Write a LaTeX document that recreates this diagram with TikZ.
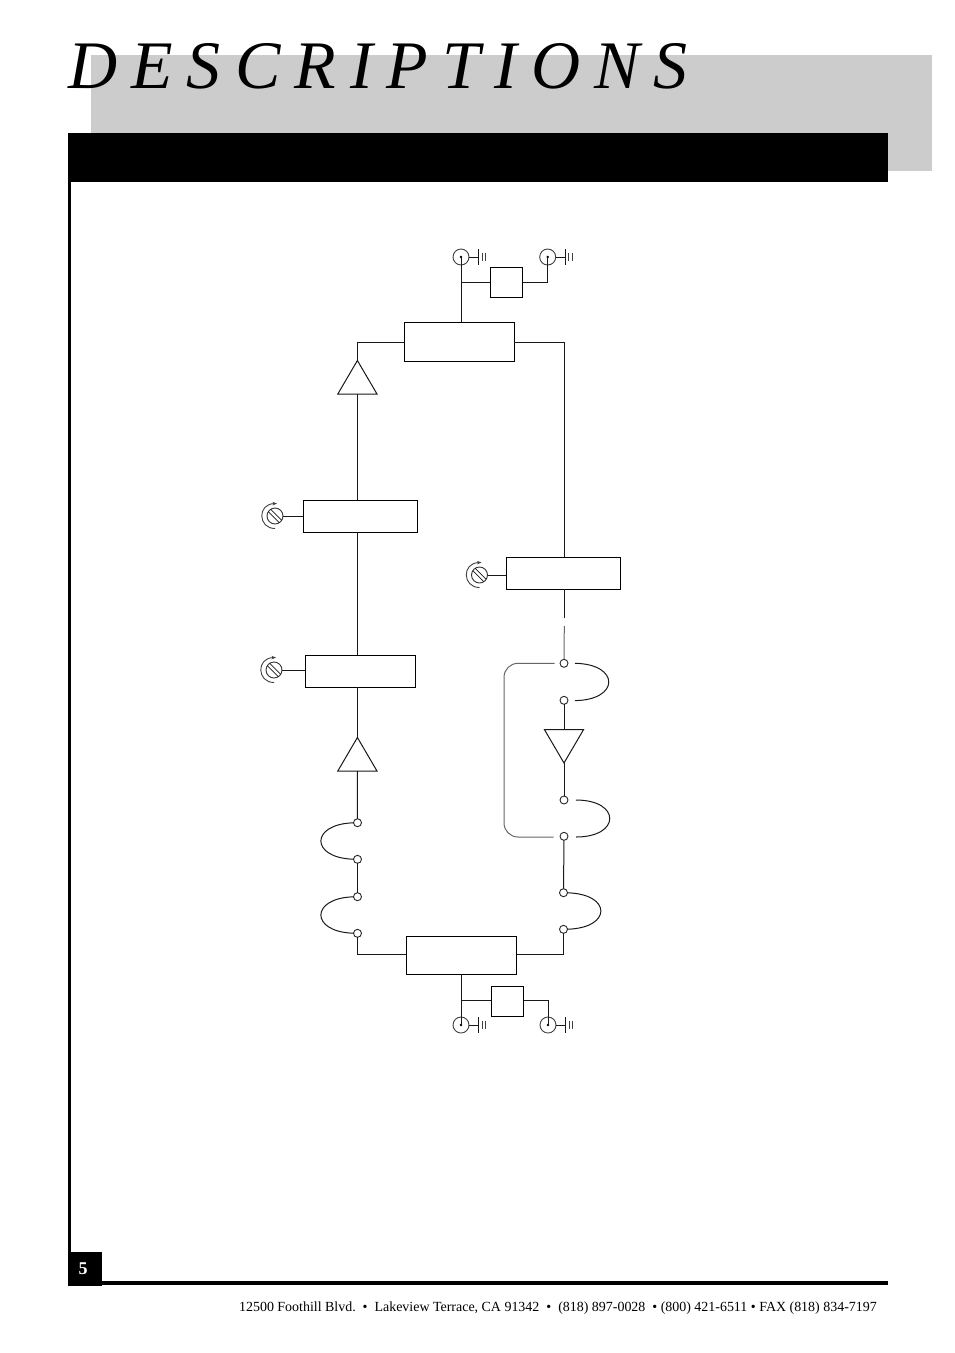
\documentclass[tikz,border=0pt]{standalone}
\usepackage{fontspec}
\setmainfont{Liberation Serif}
\usetikzlibrary{arrows.meta}
\tikzset{
  x=1pt,y=-1pt,
  wire/.style={draw=black!90,line width=1pt},
  softwire/.style={draw=black!60,line width=1pt},
  blockbox/.style={draw=black,line width=1.1pt,fill=white,inner sep=0pt,outer sep=0pt},
  port/.style={circle,draw=black!85,line width=0.9pt,fill=white,inner sep=0pt,minimum size=8pt,outer sep=0pt},
  pics/bncjack/.style={code={
    \node[circle,draw=black!75,line width=0.9pt,inner sep=0pt,minimum size=16pt] (-c) at (0,0) {};
    \fill[black] (0,0) circle (1.4pt);
    \coordinate (-g) at (17.3,0);
    \draw[wire] (-c) -- (-g);
    \draw[wire] (17.3,-8) -- (17.3,8);
    \draw[draw=black!75,line width=0.9pt] (21,-4) -- (21,4) (24.3,-4) -- (24.3,4);
  }},
  pics/trimknob/.style={code={
    \node[circle,draw=black!80,line width=0.9pt,inner sep=0pt,minimum size=16pt] (-c) at (0,0) {};
    \draw[draw=black!90,line width=0.8pt] (-6.7,-4.3) -- (4.3,6.7) (-4.3,-6.7) -- (6.7,4.3);
    \draw[draw=black!75,line width=0.9pt,-{Stealth[length=4.5pt,width=3.5pt]}] (0,12.5) .. controls (-17,12.5) and (-18,-12) .. (2,-12.5);
  }},
  pics/ampflag/.style={code={
    \coordinate (-tip) at (0,-33.5);
    \coordinate (-base) at (0,0);
    \draw[draw=black!90,line width=1pt,line join=miter] (-19.6,0) -- (-tip) -- (19.6,0) -- cycle;
  }}
}
\begin{document}
\begin{tikzpicture}
\useasboundingbox (0,0) rectangle (954,1353);
\fill[white] (0,0) rectangle (954,1353);
% page furniture
\fill[black!20] (91,55) rectangle (932,171);
\fill[black] (68,133) rectangle (888,182);
\fill[black] (68,182) rectangle (71,1285);
\fill[black] (102,1281) rectangle (888,1285);
\node[anchor=base west,inner sep=0pt] (title) at (68,88.6)
  {\fontsize{68}{68}\selectfont\itshape\spaceskip=14.1pt\relax D E S C R I P T I O N S};
\node[fill=black,minimum width=34pt,minimum height=34pt,inner sep=0pt,text=white] (pagenum) at (85,1268.6)
  {\fontsize{18}{18}\selectfont\bfseries 5\hspace*{4pt}};
\node[anchor=base east,inner sep=0pt] (footer) at (877,1311)
  {\fontsize{13.95}{13.95}\selectfont 12500 Foothill Blvd.\ \ •\ \ Lakeview Terrace, CA 91342\ \ •\ \ (818) 897-0028\ \ • (800) 421-6511 • FAX (818) 834-7197};
% blocks
\node[blockbox,minimum width=32.4pt,minimum height=30pt] (attT) at (506.5,282.3) {};
\node[blockbox,minimum width=110pt,minimum height=39pt] (couplerT) at (459.3,341.8) {};
\node[blockbox,minimum width=114.4pt,minimum height=32pt] (ctrlB) at (360.5,516.3) {};
\node[blockbox,minimum width=110.4pt,minimum height=32pt] (ctrlC) at (360.5,671.3) {};
\node[blockbox,minimum width=114.4pt,minimum height=32pt] (ctrlD) at (563.5,573.3) {};
\node[blockbox,minimum width=110.4pt,minimum height=38pt] (couplerB) at (461.5,955.3) {};
\node[blockbox,minimum width=32.4pt,minimum height=30pt] (attB) at (507.5,1001.3) {};
% jacks
\pic (jackTL) at (461,257) {bncjack};
\pic (jackTR) at (547.7,257) {bncjack};
\pic (jackBL) at (461,1025) {bncjack};
\pic (jackBR) at (548,1025) {bncjack};
% knobs
\pic (knobB) at (275,516) {trimknob};
\pic (knobC) at (274,670) {trimknob};
\pic (knobD) at (479.5,575) {trimknob};
% amplifiers
\pic (ampT) at (357.4,394) {ampflag};
\pic (ampL) at (357.4,771) {ampflag};
\pic[yscale=-1] (ampR) at (564,729.5) {ampflag};
% ports
\node[port] (r1) at (564,663.3) {};
\node[port] (r2) at (564,700.3) {};
\node[port] (r3) at (564,800) {};
\node[port] (r4) at (564,836.3) {};
\node[port] (r5) at (563.5,892.7) {};
\node[port] (r6) at (563.5,929.3) {};
\node[port] (l1) at (357.5,822.7) {};
\node[port] (l2) at (357.5,859.3) {};
\node[port] (l3) at (357.5,896.7) {};
\node[port] (l4) at (357.5,933.3) {};
% free ends and levels
\coordinate (gapA) at (564.3,618.3);
\coordinate (gapB) at (564.3,626);
\coordinate (r1a) at (575,663.3);
\coordinate (r2a) at (575,700.6);
\coordinate (r3a) at (576,800);
\coordinate (r4a) at (576,837);
\coordinate (r1b) at (554.5,663.3);
\coordinate (r4b) at (553.5,837);
\coordinate (bendT) at (504,663.3);
\coordinate (bendB) at (504,837);
\coordinate (levelT) at (0,342.3);
\coordinate (levelB) at (0,954.3);
\coordinate (levelA) at (0,1000.3);
% top section
\draw[wire] (jackTL-c.center) -- (jackTL-c.center |- couplerT.north);
\draw[wire] (jackTL-c.center |- attT.west) -- (attT.west);
\draw[wire] (attT.east) -| (jackTR-c.center);
\draw[wire] (couplerT.east |- levelT) -| (gapA |- ctrlD.north);
\draw[wire] (couplerT.west |- levelT) -| (ampT-tip);
\draw[wire] (ampT-base) -- (ampT-base |- ctrlB.north);
\draw[wire] (ampT-base |- ctrlB.south) -- (ampT-base |- ctrlC.north);
\draw[wire] (ampL-tip) -- (ampL-tip |- ctrlC.south);
\draw[wire] (ampL-base) -- (l1);
\draw[wire] (l2) -- (l3);
\draw[wire] (l4) |- (couplerB.west |- levelB);
\draw[wire] (knobB-c) -- (ctrlB.west |- knobB-c);
\draw[wire] (knobC-c) -- (ctrlC.west |- knobC-c);
\draw[wire] (knobD-c) -- (ctrlD.west |- knobD-c);
% right path
\draw[wire] (gapA |- ctrlD.south) -- (gapA);
\draw[softwire] (gapB) -- (r1);
\draw[wire] (r2) -- (ampR-base);
\draw[wire] (ampR-tip) -- (r3);
\draw[wire] (r4) -- (r5);
\draw[wire] (r6) |- (couplerB.east |- levelB);
\draw[softwire,rounded corners=14pt] (r1b) -- (bendT) -- (bendB) -- (r4b);
\draw[wire] (r1a) .. controls (620,664) and (620,700) .. (r2a);
\draw[wire] (r3a) .. controls (621,800) and (621,837) .. (r4a);
\draw[wire] (r5) .. controls (612,894) and (612,928) .. (r6);
\draw[wire] (l1) .. controls (310,824) and (310,858) .. (l2);
\draw[wire] (l3) .. controls (310,898) and (310,932) .. (l4);
% bottom section
\draw[wire] (jackBL-c.center) -- (jackBL-c.center |- couplerB.south);
\draw[wire] (jackBL-c.center |- levelA) -- (attB.west |- levelA);
\draw[wire] (attB.east |- levelA) -| (jackBR-c.center);
\end{tikzpicture}
\end{document}
